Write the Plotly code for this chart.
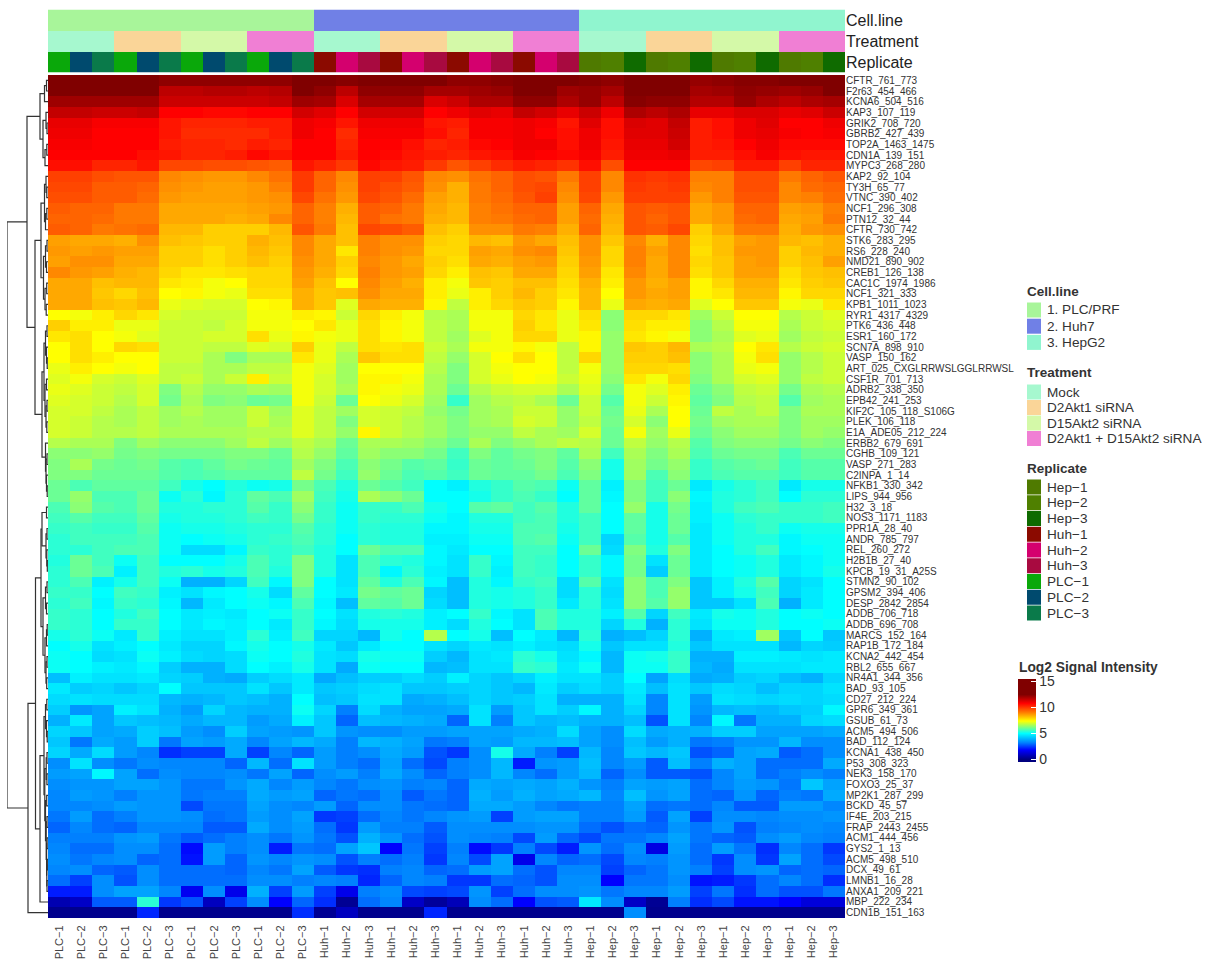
import plotly.graph_objects as go

W, H = 1210, 961

row_labels = ["CFTR_761_773","F2r63_454_466","KCNA6_504_516","KAP3_107_119","GRIK2_708_720","GBRB2_427_439","TOP2A_1463_1475","CDN1A_139_151","MYPC3_268_280","KAP2_92_104","TY3H_65_77","VTNC_390_402","NCF1_296_308","PTN12_32_44","CFTR_730_742","STK6_283_295","RS6_228_240","NMD21_890_902","CREB1_126_138","CAC1C_1974_1986","NCF1_321_333","KPB1_1011_1023","RYR1_4317_4329","PTK6_436_448","ESR1_160_172","SCN7A_898_910","VASP_150_162","ART_025_CXGLRRWSLGGLRRWSL","CSF1R_701_713","ADRB2_338_350","EPB42_241_253","KIF2C_105_118_S106G","PLEK_106_118","E1A_ADE05_212_224","ERBB2_679_691","CGHB_109_121","VASP_271_283","C2INPA_1_14","NFKB1_330_342","LIPS_944_956","H32_3_18","NOS3_1171_1183","PPR1A_28_40","ANDR_785_797","REL_260_272","H2B1B_27_40","KPCB_19_31_A25S","STMN2_90_102","GPSM2_394_406","DESP_2842_2854","ADDB_706_718","ADDB_696_708","MARCS_152_164","RAP1B_172_184","KCNA2_442_454","RBL2_655_667","NR4A1_344_356","BAD_93_105","CD27_212_224","GPR6_349_361","GSUB_61_73","ACM5_494_506","BAD_112_124","KCNA1_438_450","P53_308_323","NEK3_158_170","FOXO3_25_37","MP2K1_287_299","BCKD_45_57","IF4E_203_215","FRAP_2443_2455","ACM1_444_456","GYS2_1_13","ACM5_498_510","DCX_49_61","LMNB1_16_28","ANXA1_209_221","MBP_222_234","CDN1B_151_163"]

col_labels = ["PLC−1","PLC−2","PLC−3"]*4 + ["Huh−1","Huh−2","Huh−3"]*4 + ["Hep−1","Hep−2","Hep−3"]*4

cell_line_names = ["1. PLC/PRF","2. Huh7","3. HepG2"]
cell_line_colors = ["#A8F59A","#7080E6","#90F5CF"]
treatment_names = ["Mock","D2Akt1 siRNA","D15Akt2 siRNA","D2Akt1 + D15Akt2 siRNA"]
treatment_colors = ["#A6F8CF","#FAD598","#D4F9A8","#F07FD4"]
replicate_names = ["Hep−1","Hep−2","Hep−3","Huh−1","Huh−2","Huh−3","PLC−1","PLC−2","PLC−3"]
replicate_colors = ["#4F7A00","#4F8000","#0F6B00","#8B0A00","#D4006E","#A80A40","#0AA80A","#004A6E","#0A7A4A"]

cell_line_of_col = [0]*12 + [1]*12 + [2]*12
treatment_of_col = ([0]*3 + [1]*3 + [2]*3 + [3]*3)*3

color_values = [0, 1.8, 3.2, 5.0, 6.2, 7.4, 9.0, 10.8, 12.5, 15.5]
color_hexes = ["#00007F","#0000FF","#0080FF","#00FFFF","#80FF80","#FFFF00","#FF8000","#FF0000","#800000","#800000"]

# columns 1-18
signal_left = [
[12.5,12.5,12.5,12.5,12.5,12.3,12.3,12.3,12.3,12.3,12.3,12.5,12.5,12.4,12.5,12.5,12.5,12.5],
[12.5,12.5,12.5,12.5,12.5,11.7,11.7,11.8,11.8,11.7,11.8,12.5,12.3,11.7,12.3,12.3,12.3,12.0],
[12.1,12.1,12.1,12.1,12.1,11.5,11.5,11.5,11.5,11.5,11.6,12.1,12.0,11.3,12.0,12.0,12.0,11.3],
[11.6,11.6,11.5,11.5,11.6,10.8,10.8,10.7,10.7,10.8,10.8,11.4,11.2,10.8,11.4,11.4,11.4,10.8],
[11.1,11.1,10.9,10.9,10.9,10.5,10.3,10.3,10.3,10.4,10.4,11.0,10.9,10.5,11.0,11.0,11.0,10.5],
[11.0,11.0,10.8,10.8,10.8,10.5,10.2,10.2,10.2,10.2,10.4,11.0,10.8,10.2,10.9,10.9,10.9,10.6],
[10.9,10.9,10.8,10.8,10.8,10.4,10.3,10.3,10.2,10.4,10.3,10.8,10.8,10.3,10.8,10.8,10.6,10.3],
[10.8,10.8,10.8,10.8,10.6,10.5,10.3,10.3,10.4,10.7,10.5,10.8,10.8,10.4,10.8,10.7,10.5,10.4],
[10.6,10.6,10.3,10.3,10.5,9.8,9.8,9.7,9.7,9.6,9.5,10.5,10.3,10.0,10.7,10.5,10.4,10.0],
[9.9,9.9,9.7,9.6,9.6,8.9,8.8,8.7,8.7,8.9,9.2,10.0,9.4,8.9,9.9,9.9,9.6,8.9],
[9.8,9.8,9.5,9.5,9.4,8.8,8.7,8.6,8.6,8.7,9.0,10.0,9.4,8.8,9.9,9.7,9.5,8.8],
[9.7,9.7,9.5,9.5,9.3,8.7,8.6,8.6,8.6,8.7,8.8,9.8,9.2,8.7,9.8,9.6,9.3,8.6],
[9.5,9.4,9.4,9.1,9.1,8.5,8.5,8.5,8.5,8.6,8.7,9.4,9.0,8.4,9.5,9.4,9.1,8.5],
[9.4,9.4,9.3,9.1,9.1,8.5,8.5,8.5,8.4,8.5,8.9,9.4,9.0,8.3,9.5,9.2,9.1,8.4],
[9.5,9.4,9.1,9.2,9.3,8.3,8.3,8.0,8.0,8.0,8.3,9.6,9.1,8.2,9.8,9.7,9.5,8.2],
[8.6,8.5,8.5,8.4,8.8,8.2,8.1,8.0,8.0,8.4,8.2,8.9,8.5,8.2,9.0,8.8,8.8,8.0],
[8.7,8.6,8.7,8.6,8.6,8.0,8.0,7.8,8.0,8.3,8.1,8.9,8.5,7.7,9.0,8.8,8.7,7.9],
[8.6,8.8,8.8,8.5,8.5,8.0,8.0,7.8,8.0,8.2,8.0,8.8,8.5,8.0,8.9,8.7,8.5,8.0],
[8.9,8.7,8.6,8.4,8.3,7.9,7.7,7.7,7.8,7.9,7.9,8.7,8.4,7.9,9.0,8.7,8.6,7.9],
[8.5,8.5,8.2,8.3,8.3,7.7,7.6,7.3,7.4,7.9,7.9,8.6,8.2,7.4,8.9,8.6,8.4,7.6],
[8.5,8.5,8.1,7.9,8.2,7.4,7.5,7.3,7.2,7.8,7.8,8.4,8.1,8.2,8.8,8.5,8.5,7.6],
[8.5,8.5,8.2,8.1,8.3,7.2,7.1,7.0,7.0,7.4,7.5,8.4,8.1,7.1,8.5,8.4,8.4,7.5],
[7.4,7.3,7.6,7.9,7.7,7.0,6.9,6.9,6.9,7.3,7.3,7.6,7.5,6.9,7.9,7.6,7.3,6.7],
[8.0,7.6,7.6,7.2,7.2,6.9,6.9,6.8,7.0,7.3,7.3,7.4,7.7,7.2,7.8,7.5,7.3,6.8],
[7.7,7.8,7.4,7.3,7.1,6.9,6.9,7.0,7.0,7.8,7.2,7.5,7.3,7.2,7.8,7.5,7.3,6.8],
[7.4,7.8,7.4,7.9,7.8,6.9,6.9,6.8,6.8,7.1,7.0,8.0,7.2,6.8,7.8,7.7,7.8,6.9],
[7.4,7.8,7.6,7.4,7.4,6.9,6.9,6.6,6.2,6.6,6.6,7.7,7.2,6.6,8.1,7.8,7.8,6.8],
[7.2,7.6,7.4,7.3,7.4,6.8,6.8,6.6,6.6,6.8,6.8,7.3,7.1,6.5,7.4,7.4,7.4,6.7],
[7.1,7.3,7.0,6.9,7.1,6.8,6.9,6.6,6.9,7.6,6.9,7.3,7.0,6.5,7.5,7.5,7.3,6.6],
[7.2,7.1,6.9,6.8,7.0,6.2,6.7,6.4,6.4,6.6,6.5,7.3,7.0,6.6,7.5,7.3,7.2,6.6],
[7.1,7.0,6.9,6.7,7.0,6.1,6.6,6.2,6.3,6.0,6.1,7.3,6.9,6.0,7.4,7.2,7.0,6.5],
[7.0,7.0,6.8,6.6,6.8,6.5,6.7,6.5,6.5,6.9,6.5,7.1,6.8,6.5,7.0,6.9,6.8,6.4],
[7.0,6.9,6.7,6.6,6.8,6.5,6.6,6.5,6.5,6.9,6.6,7.1,6.8,6.2,7.0,6.9,6.7,6.5],
[7.0,6.9,6.7,6.7,6.8,6.6,6.6,6.6,6.6,6.7,6.7,7.1,6.8,6.4,7.5,6.9,6.7,6.5],
[6.7,6.6,6.6,6.2,6.5,6.3,6.3,6.3,6.5,6.8,6.5,6.8,6.6,6.0,6.6,6.6,6.5,6.3],
[6.3,6.3,6.4,6.1,6.2,6.1,6.1,6.1,6.2,6.2,6.0,6.7,6.4,5.9,6.5,6.3,6.3,6.1],
[6.2,6.6,6.1,6.0,6.1,5.8,5.7,5.9,6.1,6.0,5.9,6.5,6.2,5.7,6.3,6.1,5.8,5.9],
[6.2,6.2,6.0,6.0,6.0,5.8,5.7,5.8,5.9,5.9,5.9,6.8,6.1,5.6,6.4,6.0,5.7,5.8],
[6.0,5.7,5.9,5.9,5.9,5.6,5.2,5.0,5.3,5.1,5.2,6.1,5.7,5.3,6.0,5.8,5.6,5.0],
[6.0,6.4,5.7,5.7,6.0,5.1,5.4,4.9,5.4,5.9,5.7,6.5,5.6,5.2,6.6,6.3,6.0,5.0],
[5.7,6.3,5.8,5.7,6.0,5.3,5.3,5.4,5.4,5.8,5.5,6.3,5.5,5.1,5.5,5.5,5.7,5.2],
[5.6,5.8,5.6,5.6,5.9,5.2,5.3,5.3,5.4,5.6,5.5,6.1,5.5,5.1,5.5,5.4,5.4,5.1],
[5.5,5.6,5.5,5.5,5.8,5.1,5.2,5.2,5.3,5.4,5.4,5.8,5.4,5.1,5.4,5.3,5.3,4.9],
[5.4,5.6,5.6,5.6,5.7,5.1,5.0,5.1,5.2,5.4,5.5,5.7,5.4,5.0,5.4,5.3,5.3,4.8],
[5.4,5.4,5.6,5.7,5.7,5.1,4.5,4.5,4.9,5.5,5.4,5.6,5.3,5.0,6.0,5.7,5.7,4.9],
[5.3,6.0,5.6,5.1,5.6,5.0,5.0,5.0,5.2,5.7,5.4,6.2,5.3,4.6,5.7,5.4,5.3,4.9],
[5.4,6.0,5.7,4.8,5.6,5.3,5.4,5.2,5.3,5.7,5.3,6.2,5.3,4.6,5.7,4.9,5.4,4.8],
[5.4,5.7,4.8,5.2,5.6,5.1,3.9,3.9,4.4,5.6,4.9,6.2,5.0,4.6,5.9,5.3,5.7,4.9],
[5.5,5.5,5.0,5.6,5.5,4.8,4.6,4.9,5.0,5.2,4.5,5.9,5.0,4.7,6.1,5.9,6.0,4.4],
[5.4,5.6,4.9,5.5,5.4,4.9,4.0,4.7,5.0,5.1,4.9,5.7,4.9,4.1,5.9,5.8,6.0,4.5],
[5.5,5.4,5.0,5.3,5.6,5.0,4.7,4.8,4.7,5.0,5.1,5.5,5.0,4.6,5.3,5.4,5.3,4.8],
[5.5,5.4,5.0,5.5,5.5,5.0,4.7,4.9,4.8,5.0,4.7,5.5,4.9,4.5,5.2,5.2,5.2,4.8],
[5.2,5.4,5.1,4.7,5.5,4.8,4.6,4.6,4.8,5.4,4.8,5.6,4.4,4.4,4.0,5.2,5.0,6.7],
[5.0,5.2,4.6,4.8,5.0,4.7,4.4,4.4,4.9,5.2,5.0,5.2,4.7,4.2,4.7,5.0,5.0,4.6],
[5.1,5.0,4.5,4.6,5.1,4.8,4.5,4.4,4.5,5.1,5.0,5.3,4.6,4.5,5.2,5.1,5.1,4.3],
[5.1,5.0,4.8,4.7,4.9,4.3,3.9,3.9,4.5,5.0,4.8,5.2,4.6,3.8,5.1,5.0,5.0,4.0],
[4.1,4.8,4.6,4.6,4.7,4.4,4.3,3.9,3.8,4.3,4.5,4.7,3.8,4.1,4.3,4.3,4.5,4.3],
[4.7,4.3,4.4,4.2,4.4,5.0,4.2,4.2,4.2,4.6,4.2,4.7,4.2,4.3,4.5,4.6,4.2,4.2],
[4.5,4.6,4.5,4.5,4.5,4.0,3.9,4.0,4.2,4.1,3.9,5.0,4.1,4.2,4.6,4.6,3.8,3.9],
[4.3,3.5,3.7,4.8,4.6,3.9,3.6,4.4,4.0,3.9,3.9,5.1,4.4,3.2,4.5,3.9,3.7,3.7],
[3.9,4.7,3.7,4.2,4.1,4.0,3.8,4.0,4.0,3.6,3.8,4.8,4.2,2.9,4.1,4.0,3.9,3.8],
[4.4,4.2,3.7,3.8,4.3,4.1,3.6,3.4,4.3,3.7,3.6,3.5,4.2,3.5,3.4,3.4,3.6,3.6],
[4.2,3.1,3.8,3.6,4.3,3.1,3.7,3.6,3.8,3.3,3.7,4.0,3.8,3.2,4.0,3.9,3.7,3.1],
[4.4,3.8,4.5,3.6,3.3,2.3,2.5,2.5,3.8,2.5,3.3,2.9,3.6,3.2,3.4,3.8,3.6,2.7],
[3.4,4.6,3.4,3.1,3.4,3.3,3.3,3.3,2.9,4.0,3.0,4.6,3.6,3.2,3.0,3.7,3.0,2.6],
[3.6,3.7,4.9,3.7,3.0,3.4,3.3,3.3,3.4,3.1,3.7,2.9,3.4,3.6,3.2,3.8,3.4,2.9],
[3.4,3.5,3.5,3.7,3.7,3.5,3.1,3.1,3.5,3.8,3.3,3.6,3.3,3.1,3.4,3.5,3.2,3.3],
[3.3,3.6,3.5,3.2,3.5,3.5,3.1,3.2,3.2,3.8,3.6,3.7,2.9,3.1,3.0,3.4,2.8,3.1],
[3.3,3.3,3.4,3.6,3.5,3.5,2.6,3.1,3.1,3.7,3.4,3.3,3.6,2.9,3.4,3.4,3.1,3.0],
[3.1,3.6,3.0,3.2,3.5,3.5,3.4,3.0,3.1,3.6,3.4,3.7,2.4,2.5,3.0,3.3,3.1,3.3],
[2.9,3.3,3.0,2.9,3.3,3.3,3.3,2.8,2.8,3.8,3.4,3.6,3.0,2.4,3.6,3.2,3.2,2.8],
[3.2,3.2,3.2,3.5,3.6,3.1,2.8,3.0,3.2,3.4,3.1,3.5,3.1,2.7,3.9,3.5,3.0,2.7],
[3.3,3.0,3.0,3.4,3.4,3.0,1.9,3.6,3.2,3.4,2.1,3.1,3.0,3.7,4.2,1.8,3.1,2.5],
[3.4,3.1,3.3,3.4,2.9,3.0,2.0,3.6,2.9,3.5,3.3,3.5,3.4,2.7,3.2,3.0,3.2,2.4],
[3.3,3.4,2.9,2.8,3.4,3.0,3.0,3.0,2.9,3.3,3.1,3.7,2.8,2.4,2.3,3.2,3.3,2.9],
[3.0,2.5,3.4,2.7,3.4,3.0,3.0,3.0,3.0,3.4,3.4,3.2,3.3,3.2,2.2,2.9,3.3,3.2],
[2.1,2.1,3.4,3.7,3.7,3.3,1.6,3.4,1.5,3.9,2.5,3.6,2.5,1.5,3.2,3.4,2.6,2.5],
[0.7,1.0,2.8,2.8,5.4,2.4,2.7,0.9,2.5,3.4,1.8,2.9,2.3,0.3,3.0,3.3,1.0,0.4],
[0.2,0.2,0.2,0.2,2.2,0.2,0.2,0.2,0.2,0.2,0.2,2.3,0.3,0.9,0.2,0.2,0.2,2.2],
]

# columns 19-36
signal_right = [
[12.3,12.3,12.4,12.5,12.5,12.5,12.4,12.3,12.5,12.5,12.5,12.2,12.3,12.4,12.4,12.5,12.5,12.5],
[12.0,12.1,12.2,12.5,12.5,12.1,12.2,12.0,12.5,12.5,12.5,12.0,12.1,12.3,12.2,12.1,12.2,12.5],
[11.5,11.9,11.9,12.3,12.3,11.9,12.2,11.7,12.4,12.3,12.3,11.8,11.8,12.2,11.9,11.7,11.9,12.0],
[11.0,11.2,11.1,11.6,11.4,11.1,11.5,11.0,11.9,11.7,11.9,11.1,11.1,11.3,11.3,11.1,11.2,11.5],
[10.4,10.9,10.9,11.0,10.9,10.5,11.2,10.6,11.3,11.2,11.6,10.4,10.6,11.0,11.2,10.8,10.8,11.0],
[10.3,10.9,10.9,11.0,10.8,10.6,11.0,10.6,11.2,11.2,11.5,10.4,10.6,11.0,11.1,10.9,10.8,10.9],
[10.4,10.7,10.8,11.0,11.0,10.6,11.0,10.5,11.1,11.1,11.4,10.4,10.5,10.8,11.0,10.7,10.7,10.7],
[10.3,10.5,10.6,10.9,10.8,10.7,10.9,10.4,11.0,11.0,11.1,10.4,10.4,10.6,10.9,10.6,10.5,10.5],
[9.6,9.9,10.2,10.4,10.3,10.1,10.6,9.7,10.8,10.8,10.8,9.8,9.9,10.4,10.4,9.9,10.3,10.3],
[8.8,9.2,9.4,9.7,9.6,9.1,9.9,8.9,10.1,10.0,10.1,9.0,9.0,9.7,9.7,9.1,9.4,9.6],
[8.4,9.1,9.4,9.7,9.8,8.9,9.9,8.9,10.0,9.9,10.0,8.9,9.0,9.7,9.7,8.9,9.3,9.4],
[8.4,9.1,9.3,9.6,9.9,8.8,9.8,8.7,9.9,9.9,9.9,8.7,9.0,9.6,9.6,8.9,9.0,9.3],
[8.3,9.0,9.2,9.4,9.4,8.6,9.4,8.5,9.6,9.5,9.6,8.5,8.7,9.4,9.4,8.6,8.7,9.0],
[8.3,9.0,9.1,9.3,9.4,8.6,9.3,8.4,9.6,9.4,9.6,8.5,8.7,9.3,9.4,8.5,8.6,9.1],
[8.0,8.8,8.8,9.1,9.0,8.4,9.4,8.3,9.6,9.5,9.8,8.0,8.5,9.1,9.1,8.4,8.7,8.8],
[7.9,8.3,8.2,8.7,8.5,8.2,8.8,8.1,8.9,8.4,8.9,7.9,8.2,8.6,8.7,8.3,8.2,8.4],
[7.9,8.6,8.5,8.8,8.9,8.1,8.8,7.9,9.0,8.6,8.9,7.8,8.2,8.7,8.7,8.0,8.3,8.4],
[7.8,8.5,8.4,8.6,8.7,8.0,8.7,7.9,9.0,8.5,8.9,7.9,8.1,8.6,8.7,8.0,8.2,8.6],
[7.6,8.2,8.1,8.5,8.5,7.9,8.6,7.7,8.9,8.5,8.9,7.8,8.1,8.6,8.6,7.8,8.1,8.2],
[7.3,8.1,8.0,8.2,8.2,7.8,8.4,7.6,8.7,8.4,8.6,7.5,7.9,8.4,8.4,7.7,8.0,8.1],
[7.2,7.6,8.0,8.3,8.0,7.7,8.3,7.4,8.7,8.5,8.6,7.5,7.7,8.3,8.3,7.5,7.9,7.9],
[6.8,7.6,7.9,8.1,8.0,7.5,8.3,7.2,8.5,8.4,8.5,7.1,7.4,8.1,8.1,7.3,7.2,7.7],
[6.6,7.3,7.3,7.9,7.7,7.2,7.8,6.3,7.9,7.9,7.7,6.5,6.9,7.4,7.4,6.7,6.9,7.1],
[6.6,7.3,7.3,8.0,7.7,7.2,7.7,6.3,7.8,7.6,7.6,6.3,6.7,7.3,7.3,6.6,6.9,7.0],
[6.5,7.1,7.3,7.9,7.9,7.2,7.5,6.4,7.7,7.5,7.3,6.3,6.6,7.1,7.2,6.5,6.8,6.9],
[6.6,7.3,7.3,7.5,7.3,6.8,7.5,6.4,8.1,8.0,8.3,6.6,6.7,7.4,7.7,6.7,6.9,7.0],
[6.4,7.0,7.4,7.8,7.4,6.8,7.9,6.4,8.0,8.0,8.2,6.3,6.6,7.3,7.8,6.4,6.7,6.9],
[6.2,7.0,7.3,7.4,7.4,6.8,7.3,6.4,7.9,7.9,7.8,6.3,6.6,7.2,7.3,6.4,6.7,6.9],
[6.2,7.0,7.2,7.4,7.3,6.9,7.2,6.3,7.7,7.3,7.9,6.2,6.6,7.0,7.1,6.4,6.8,6.9],
[6.0,6.7,6.9,7.0,7.0,6.6,7.1,6.1,7.3,7.1,7.6,6.0,6.3,6.8,6.9,6.1,6.6,6.7],
[5.5,6.5,6.7,6.8,6.6,6.0,6.9,5.8,7.3,6.9,7.5,5.9,6.2,6.7,6.8,5.8,6.5,6.6],
[6.1,6.5,6.6,6.9,6.9,6.4,6.9,6.0,7.2,6.6,7.4,6.0,6.8,6.6,6.8,6.2,6.6,6.6],
[6.2,6.5,6.6,7.0,6.9,6.4,6.8,6.1,7.0,6.3,7.4,6.1,6.5,6.6,6.6,6.2,6.5,6.5],
[6.2,6.4,6.4,6.8,6.6,6.5,7.0,6.0,7.3,6.5,7.2,6.0,6.3,6.5,6.5,6.2,6.5,6.4],
[6.0,6.6,6.2,6.4,6.6,6.8,6.7,6.0,6.8,6.4,6.7,5.8,6.2,6.3,6.3,6.1,6.3,6.2],
[5.6,6.2,5.9,6.1,6.2,5.9,6.6,5.6,6.6,6.2,6.6,5.7,6.0,6.1,6.1,5.7,6.0,6.0],
[5.5,6.0,5.9,6.0,6.2,5.8,6.3,5.2,6.5,6.1,6.4,5.5,5.8,5.9,6.0,5.6,5.8,5.8],
[5.6,6.0,5.9,5.9,6.1,5.7,6.2,5.2,6.5,5.7,6.3,5.5,5.7,5.8,5.8,5.6,5.8,5.8],
[4.8,5.3,5.5,5.8,5.7,5.1,5.9,4.8,6.2,5.6,6.0,4.7,5.2,5.4,5.6,4.7,5.2,5.2],
[5.0,5.2,5.5,5.7,5.5,5.0,5.9,4.9,6.2,5.6,6.3,4.9,5.3,5.4,5.6,5.0,5.4,5.4],
[5.0,5.8,5.9,5.6,5.8,5.3,5.9,5.0,6.4,5.2,6.1,4.8,5.3,5.6,5.7,5.5,5.5,5.6],
[4.9,5.3,5.3,5.6,5.7,5.3,5.6,5.0,5.9,5.2,6.0,4.8,5.1,5.4,5.5,5.5,5.5,5.6],
[4.9,5.2,5.2,5.7,5.7,5.2,5.6,5.0,5.9,5.2,6.0,4.7,5.1,5.3,5.5,5.1,5.2,5.2],
[4.8,5.1,5.1,5.7,5.8,5.1,5.6,4.4,5.8,5.2,5.8,4.7,5.1,5.3,5.3,4.9,5.1,5.1],
[4.7,5.0,5.0,5.6,5.6,5.0,6.0,4.5,6.2,5.3,6.2,4.7,5.0,5.3,5.6,4.9,5.0,5.1],
[4.6,5.5,4.9,5.6,5.5,5.0,5.5,4.9,6.1,4.6,6.0,4.7,5.0,5.1,5.3,4.7,4.9,5.1],
[4.6,5.5,4.8,5.6,5.5,5.0,5.5,4.9,6.1,4.3,6.0,4.7,5.0,5.1,5.3,4.7,4.9,5.2],
[4.1,5.3,4.9,5.5,5.6,4.5,5.8,4.6,6.3,5.7,6.2,4.2,4.8,5.3,5.8,4.4,4.6,5.0],
[4.1,5.3,5.2,5.3,5.5,4.5,5.4,4.5,6.3,5.7,6.4,4.2,4.8,5.2,5.6,4.4,4.7,5.0],
[4.1,5.3,5.2,5.3,5.5,4.7,5.4,4.6,6.3,5.8,6.4,4.2,4.2,4.6,5.7,3.9,4.7,5.0],
[5.0,5.5,4.9,4.6,5.7,5.3,5.3,4.8,5.8,4.4,5.6,4.7,5.2,5.1,5.3,5.0,5.1,5.0],
[4.5,5.3,5.0,4.6,5.7,5.3,5.3,4.4,5.3,3.9,5.4,4.6,5.1,5.1,5.3,5.0,5.0,5.1],
[5.0,5.2,4.1,5.0,4.7,4.0,5.4,3.9,4.1,4.4,5.4,3.9,4.7,4.8,6.5,4.2,5.0,4.2],
[4.4,4.7,4.6,4.8,4.6,4.5,5.2,4.2,4.6,4.6,5.3,4.2,4.6,4.6,4.6,4.0,4.4,4.3],
[4.0,4.6,4.7,5.4,5.2,4.6,4.9,4.0,5.1,5.2,5.5,3.9,3.9,4.8,4.8,4.7,4.6,4.7],
[4.1,4.6,4.6,5.5,5.4,4.7,5.1,4.0,5.1,5.1,5.5,4.0,3.8,4.6,4.6,4.6,4.7,4.7],
[4.8,4.4,4.2,4.4,4.8,4.6,4.6,4.3,5.0,3.7,4.5,3.8,3.9,4.3,4.4,4.1,3.9,4.4],
[4.3,4.4,4.2,4.0,4.7,4.3,4.5,4.3,4.7,4.1,4.6,4.2,4.5,4.4,4.1,4.4,4.4,4.6],
[4.1,4.4,4.2,4.3,4.6,3.9,3.9,3.9,4.6,3.3,4.6,3.6,4.6,4.5,4.4,4.5,4.4,4.5],
[3.8,4.6,3.6,4.2,4.6,4.3,4.9,3.9,4.4,3.3,4.6,3.5,4.0,4.1,4.0,4.2,4.3,4.9],
[2.9,4.6,3.2,4.2,4.0,4.1,3.9,3.9,4.1,2.7,4.6,3.3,4.9,3.1,3.9,3.9,4.4,4.5],
[3.7,3.7,3.7,3.8,3.9,4.5,3.7,3.4,4.5,3.8,3.9,3.9,4.3,4.3,3.7,3.7,3.7,3.8],
[3.2,3.7,3.6,4.0,4.0,4.1,3.7,3.4,4.1,3.6,3.9,3.1,3.2,3.5,3.5,4.0,3.4,3.4],
[2.4,3.4,5.2,3.8,3.2,2.5,4.0,3.3,4.2,4.0,4.2,2.7,2.9,3.7,3.8,2.8,3.0,3.4],
[3.2,3.4,4.0,2.1,3.5,3.6,4.1,3.3,3.6,2.8,4.1,3.2,3.9,3.7,3.0,3.0,3.0,3.8],
[3.2,3.4,4.0,3.3,3.0,3.6,4.0,2.9,3.4,2.8,2.8,2.7,3.3,3.7,3.0,3.2,3.4,3.2],
[2.9,3.8,3.7,3.8,3.7,3.9,3.5,3.2,3.7,3.6,3.7,3.0,3.3,3.6,3.5,3.1,4.2,3.7],
[2.9,3.9,3.6,3.9,3.7,3.8,4.0,3.3,4.1,3.5,3.7,3.0,2.9,3.5,2.9,3.2,3.1,3.8],
[2.9,3.8,3.8,3.6,3.3,3.1,3.2,3.2,3.7,3.0,3.1,3.0,3.3,2.8,2.8,3.6,3.6,3.3],
[3.5,3.6,2.5,3.6,3.7,3.7,3.2,3.2,3.6,2.8,3.7,2.5,3.4,3.4,3.3,3.4,3.4,3.5],
[3.4,3.4,3.4,3.4,3.5,3.5,3.0,2.7,3.0,2.9,3.5,3.1,3.5,2.7,3.2,3.3,3.4,3.3],
[3.4,3.3,3.2,2.6,3.6,2.9,2.6,3.1,3.1,3.3,3.7,3.1,2.9,2.8,3.4,3.6,3.3,3.2],
[3.2,1.9,2.4,3.2,2.6,2.1,3.5,3.0,3.4,1.4,3.6,3.0,3.6,3.1,2.3,3.3,3.0,2.4],
[3.3,2.6,3.7,1.5,3.3,2.9,3.0,2.6,3.3,3.2,3.5,3.0,2.4,3.4,2.4,3.7,3.0,2.6],
[3.0,3.6,3.7,3.0,2.7,3.3,3.3,2.5,2.9,3.1,3.5,3.2,2.5,3.4,3.5,2.9,3.0,2.9],
[2.4,2.4,3.0,2.9,2.7,3.4,3.4,1.8,3.1,3.1,3.4,2.0,2.1,2.4,3.0,3.3,3.0,2.3],
[2.6,3.5,2.5,3.0,3.4,3.4,3.5,3.1,3.3,3.3,3.6,2.5,3.1,2.3,3.0,2.7,2.7,3.1],
[0.8,3.4,3.0,1.8,2.7,2.8,4.7,3.4,1.0,0.3,3.2,2.3,2.6,2.0,2.0,1.8,1.3,1.3],
[0.2,0.2,0.2,0.2,0.2,0.2,0.2,0.2,3.4,0.2,0.2,0.2,0.2,0.2,0.2,0.2,0.2,0.2],
]

# row dendrogram: [height, left, right], leaves are row numbers
dendrogram = [41,
 [21,
  [8, [3.5,[1.5,1,2],3], [5,[2,4,[1,5,6]],[3,[1.2,7,8],9]]],
  [13,
   [7,
    [3.5,[2,10,[1.2,11,12]],[2.5,[1.2,13,14],15]],
    [4.5,[2.5,[1,16,17],[1.5,18,19]],[3,[1.3,20,21],[1.8,22,23]]]],
   [6,
    [4,[2.5,[1,24,25],[1.5,26,[0.8,27,28]]],[3,[1.5,29,30],[2,[1,31,32],[1.2,33,34]]]],
    [2.5,35,[2,[1,36,37],[1.5,38,[0.8,39,40]]]]]]],
 [20,
  [12.5,
   [7,
    [6,[1.5,41,42],[2,[1,43,44],[1.2,45,[0.7,46,47]]]],
    [5,[2.5,[1,48,49],[1.5,50,51]],[3,[1.5,[0.8,52,53],54],[2,[1,55,56],[1.3,57,58]]]]],
   [8,
    [4,
     [2.5,[1.2,59,60],[1.5,61,[0.8,62,63]]],
     [3.2,[1.8,[1,64,65],[1.1,66,67]],
      [2.5,[1.3,68,69],[1.8,[1,70,71],[1.4,[0.9,72,73],[1.2,[0.7,74,75],[1,76,77]]]]]]],
    78]],
  79]]

# ---------- geometry (pixels in the 1210x961 page)
HM_L, HM_R, HM_T, HM_B = 48, 845, 75, 918
ANN_T, ANN_B = 9.5, 72.5
DN_L = 7

def xd(a, b): return [a / W, b / W]
def yd(t, b): return [1 - b / H, 1 - t / H]

cmin, cmax = -0.5, 15.5
colorscale = [[(v - cmin) / (cmax - cmin), c] for v, c in zip(color_values, color_hexes)]
colorscale = [[0, color_hexes[0]]] + colorscale

signal = [a + b for a, b in zip(signal_left, signal_right)]
rows = list(range(1, len(row_labels) + 1))
cols = list(range(1, len(col_labels) + 1))

fig = go.Figure()

fig.add_trace(go.Heatmap(
    z=signal, x=cols, y=rows, xaxis="x", yaxis="y",
    colorscale=colorscale, zmin=cmin, zmax=cmax, hoverongaps=False,
    colorbar=dict(
        x=1018 / W, xanchor="left", xpad=0, thickness=18,
        y=1 - 679 / H, yanchor="top", ypad=0, len=83, lenmode="pixels",
        tickvals=[0, 5, 10, 15], ticks="inside", ticklen=5, tickcolor="white",
        tickfont=dict(family="Liberation Sans", size=14, color="#333333"),
        outlinewidth=0, borderwidth=0,
    ),
))

# annotation strip
ann_colors = cell_line_colors + treatment_colors + replicate_colors
ann_scale = []
for i, c in enumerate(ann_colors):
    ann_scale += [[i / len(ann_colors), c], [(i + 1) / len(ann_colors), c]]
n_cl, n_tr = len(cell_line_colors), len(treatment_colors)
rep_of_col = [replicate_names.index(c) for c in col_labels]
ann_z = [
    cell_line_of_col,
    [n_cl + t for t in treatment_of_col],
    [n_cl + n_tr + r for r in rep_of_col],
]
fig.add_trace(go.Heatmap(
    z=ann_z, x=cols, y=["Cell.line", "Treatment", "Replicate"], xaxis="x2", yaxis="y2",
    colorscale=ann_scale, zmin=-0.5, zmax=len(ann_colors) - 0.5, showscale=False,
))

# dendrogram
dx, dy = [], []
def walk(node):
    if isinstance(node, int):
        return 0, node
    h, a, b = node
    ha, ya = walk(a)
    hb, yb = walk(b)
    dx.extend([ha, h, h, hb, None])
    dy.extend([ya, ya, yb, yb, None])
    return h, (ya + yb) / 2
walk(dendrogram)
fig.add_trace(go.Scatter(
    x=dx, y=dy, xaxis="x3", yaxis="y", mode="lines",
    line=dict(color="#333333", width=1.2), showlegend=False, hoverinfo="skip",
))

row_font = dict(family="Liberation Sans", size=10, color="#333333")
col_font = dict(family="Liberation Sans", size=11, color="#444444")
fig.update_layout(
    width=W, height=H, margin=dict(l=0, r=0, t=0, b=0), autosize=False,
    paper_bgcolor="white", plot_bgcolor="white", showlegend=False,
    xaxis=dict(domain=xd(HM_L, HM_R), range=[0.5, 36.5], tickmode="array", tickvals=cols,
               ticktext=col_labels, tickangle=-90, ticks="outside", ticklen=2,
               tickcolor="rgba(0,0,0,0)", tickfont=col_font, showgrid=False, zeroline=False, showline=False),
    yaxis=dict(domain=yd(HM_T, HM_B), range=[79.5, 0.5], side="right", tickmode="array",
               tickvals=rows, ticktext=row_labels, ticks="", tickfont=row_font,
               showgrid=False, zeroline=False, showline=False),
    xaxis2=dict(domain=xd(HM_L, HM_R), range=[0.5, 36.5], anchor="y2", showticklabels=False,
                ticks="", showgrid=False, zeroline=False, showline=False),
    yaxis2=dict(domain=yd(ANN_T, ANN_B), anchor="x2", side="right", type="category", autorange="reversed",
                ticks="", tickfont=dict(family="Liberation Sans", size=16, color="#222222"),
                showgrid=False, zeroline=False, showline=False),
    xaxis3=dict(domain=xd(DN_L, HM_L), range=[41, 0], anchor="y", visible=False, showgrid=False, zeroline=False),
)

# side legend
LEG_X = 1027
groups = [
    ("Cell.line", 291, cell_line_names, cell_line_colors, 310, 16.2),
    ("Treatment", 372, treatment_names, treatment_colors, 392, 15.5),
    ("Replicate", 468, replicate_names, replicate_colors, 487, 15.75),
]
shapes, annots = [], []
def text(x, y, s, size, bold=False, color="#333333"):
    annots.append(dict(xref="paper", yref="paper", x=(x - 2) / W, y=1 - y / H, xanchor="left", yanchor="middle",
                       text=f"<b>{s}</b>" if bold else s, showarrow=False,
                       font=dict(family="Liberation Sans", size=size, color=color)))
for title, ty, names, colors, y0, step in groups:
    text(LEG_X, ty, title, 13.5, bold=True)
    for i, (n, c) in enumerate(zip(names, colors)):
        yc = y0 + i * step
        shapes.append(dict(type="rect", xref="paper", yref="paper", x0=LEG_X / W, x1=(LEG_X + 14) / W,
                           y0=1 - (yc + 7.5) / H, y1=1 - (yc - 7.5) / H, fillcolor=c, line=dict(width=0)))
        text(LEG_X + 20, yc, n, 13.6)
text(1019, 667, "Log2 Signal Intensity", 13.8, bold=True)
fig.update_layout(shapes=shapes, annotations=annots)

fig.write_html("out.html", post_script="document.body.style.margin='0';", config={"displayModeBar": False})
